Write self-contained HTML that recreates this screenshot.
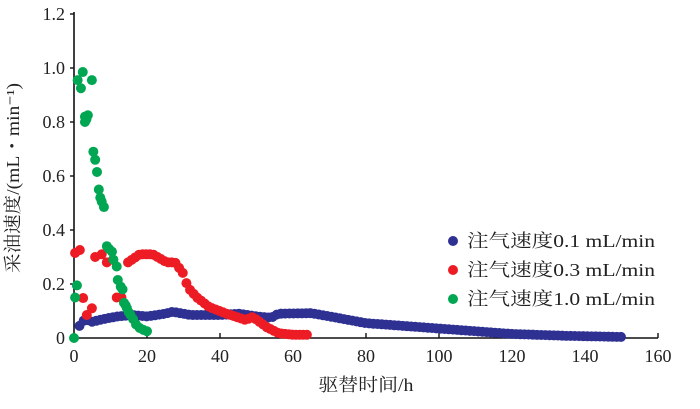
<!DOCTYPE html>
<html><head><meta charset="utf-8"><style>
body{margin:0;background:#fff;}
svg text{font-family:"Liberation Serif","Noto Serif CJK SC",serif;fill:#222;}
</style></head><body>
<svg id="s" width="700" height="404" xmlns="http://www.w3.org/2000/svg">
<g stroke="#111" stroke-width="1.6" fill="none">
<line x1="74" y1="12" x2="74" y2="339"/>
<line x1="73" y1="338" x2="658" y2="338"/>
</g>
<g id="ticks" stroke="#111" stroke-width="1.4"></g>
<g font-size="18" text-anchor="end">
<text x="65" y="344">0</text><text x="65" y="290">0.2</text><text x="65" y="236">0.4</text><text x="65" y="182">0.6</text><text x="65" y="128">0.8</text><text x="65" y="74">1.0</text><text x="65" y="20">1.2</text>
</g>
<g font-size="18" text-anchor="middle">
<text x="74" y="362">0</text><text x="147" y="362">20</text><text x="220" y="362">40</text><text x="293" y="362">60</text><text x="366" y="362">80</text><text x="439" y="362">100</text><text x="512" y="362">120</text><text x="585" y="362">140</text><text x="658" y="362">160</text>
<text x="366" y="391" textLength="95" lengthAdjust="spacingAndGlyphs">驱替时间/h</text>
<text transform="translate(19,178) rotate(-90)" textLength="190" lengthAdjust="spacingAndGlyphs">采油速度/(mL・min⁻¹)</text>
</g>
<g id="pts"></g>
<g font-size="18">
<circle cx="453" cy="241" r="5" fill="#2e3192"/><text x="467" y="247" textLength="188" lengthAdjust="spacingAndGlyphs">注气速度0.1 mL/min</text>
<circle cx="453" cy="270" r="5" fill="#ed1c24"/><text x="467" y="276" textLength="188" lengthAdjust="spacingAndGlyphs">注气速度0.3 mL/min</text>
<circle cx="453" cy="299" r="5" fill="#00a651"/><text x="467" y="305" textLength="188" lengthAdjust="spacingAndGlyphs">注气速度1.0 mL/min</text>
</g>
</svg>
<script>
var NS="http://www.w3.org/2000/svg";
var t=document.getElementById("ticks");
function ln(a,b,c,d){var l=document.createElementNS(NS,"line");l.setAttribute("x1",a);l.setAttribute("y1",b);l.setAttribute("x2",c);l.setAttribute("y2",d);t.appendChild(l);}
for(var i=0;i<=6;i++){var y=338-i*54;ln(70,y,74,y);}
for(var i=1;i<=8;i++){var x=74+i*73;ln(x,338,x,333);}
var g=document.getElementById("pts");
function P(x,y){return[74+x*3.65,338-y*270];}
function dot(x,y,c){var p=P(x,y);var e=document.createElementNS(NS,"circle");e.setAttribute("cx",p[0]);e.setAttribute("cy",p[1]);e.setAttribute("r",5);e.setAttribute("fill",c);g.appendChild(e);}
function interp(k,x){for(var i=0;i<k.length-1;i++){if(x>=k[i][0]&&x<=k[i+1][0]){var f=(x-k[i][0])/(k[i+1][0]-k[i][0]);return k[i][1]+f*(k[i+1][1]-k[i][1]);}}return k[k.length-1][1];}
var bk=[[1.5,0.045],[3,0.07],[5,0.06],[8,0.07],[12,0.08],[16,0.085],[20,0.08],[25,0.09],[27,0.097],[32,0.085],[40,0.085],[45,0.09],[50,0.08],[54,0.075],[56,0.09],[65,0.092],[70,0.08],[80,0.055],[90,0.045],[100,0.035],[110,0.025],[120,0.015],[135,0.008],[150,0.004]];
for(var x=1.5;x<=150.1;x+=1.15)dot(x,interp(bk,x),"#2e3192");
var r=[[0.3,0.315],[1.6,0.326],[2.5,0.148],[3.5,0.085],[4.9,0.11],[5.8,0.3],[7.6,0.31],[9,0.28],[10.7,0.29],[11.7,0.15],[13,0.15]];
r.forEach(function(p){dot(p[0],p[1],"#ed1c24");});
var rk=[[14.8,0.28],[18,0.31],[21.6,0.31],[25.4,0.28],[27.7,0.28],[30.4,0.23],[31,0.19],[33.7,0.15],[37,0.115],[41.8,0.09],[47,0.067],[49,0.078],[52.8,0.04],[56,0.018],[60,0.012],[64.6,0.012]];
for(var x=14.8;x<=64.7;x+=1.0)dot(x,interp(rk,x),"#ed1c24");
var gr=[[0,0],[0.3,0.15],[0.8,0.195],[1,0.955],[1.9,0.925],[2.4,0.985],[4.9,0.955],[3,0.82],[3.8,0.825],[3,0.8],[3.4,0.81],[5.3,0.69],[5.8,0.66],[6.3,0.615],[6.8,0.55],[7.2,0.52],[7.6,0.505],[8.2,0.485],[9,0.34],[9.6,0.33],[10.4,0.32],[10.8,0.29],[11.7,0.265],[12,0.215],[12.8,0.19],[13.3,0.18],[13.7,0.13],[14.2,0.12],[14.5,0.11],[15,0.095],[15.5,0.085],[16.2,0.07],[17,0.05],[18,0.037],[19,0.03],[20,0.025]];
gr.forEach(function(p){dot(p[0],p[1],"#00a651");});
</script>
</body></html>
